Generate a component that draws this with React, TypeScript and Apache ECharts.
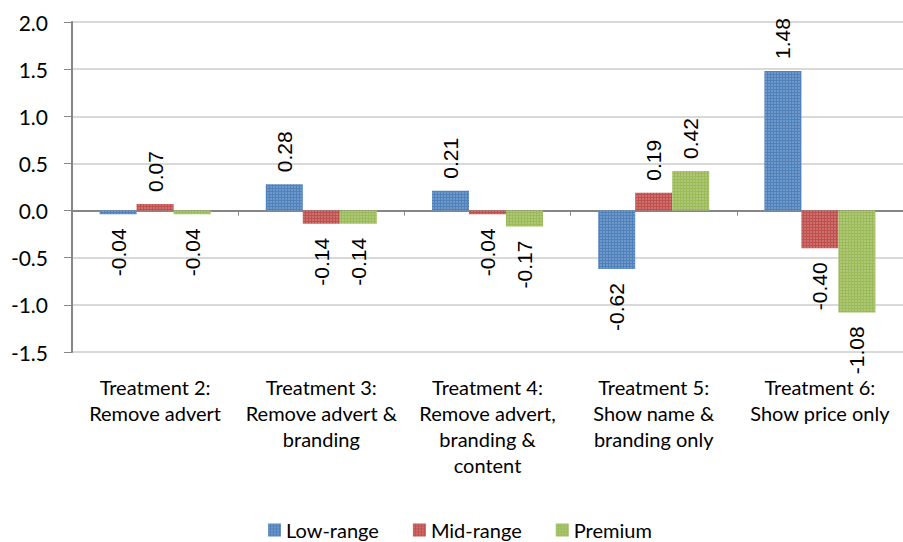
import React, { useEffect, useRef } from "react";
import * as echarts from "echarts";

const categories = [
  "Treatment 2:\nRemove advert",
  "Treatment 3:\nRemove advert &\nbranding",
  "Treatment 4:\nRemove advert,\nbranding &\ncontent",
  "Treatment 5:\nShow name &\nbranding only",
  "Treatment 6:\nShow price only",
];
const seriesNames = ["Low-range", "Mid-range", "Premium"];
const lowRange = [-0.04, 0.28, 0.21, -0.62, 1.48];
const midRange = [0.07, -0.14, -0.04, 0.19, -0.4];
const premium = [-0.04, -0.14, -0.17, 0.42, -1.08];
const colors = ["#4F81BD", "#C0504D", "#9BBB59"];

const AXIS_FONT = "Lato, 'Open Sans', sans-serif";
const LABEL_FONT = "'Liberation Sans', Arial, sans-serif";

function mkData(values: number[]) {
  return values.map((v) => ({
    value: v,
    label:
      v >= 0
        ? { position: "top", rotate: 90, align: "left", verticalAlign: "middle", distance: 12 }
        : { position: "bottom", rotate: 90, align: "right", verticalAlign: "middle", distance: 14 },
  }));
}

export default function App() {
  const ref = useRef<HTMLDivElement>(null);
  useEffect(() => {
    if (!ref.current) return;
    const chart = echarts.init(ref.current, undefined, { renderer: "svg" });
    const allSeries = [lowRange, midRange, premium];
    chart.setOption({
      animation: false,
      backgroundColor: "#ffffff",
      grid: { left: 72, right: -9, top: 22, bottom: 190, containLabel: false },
      legend: {
        top: 514,
        left: 263,
        itemWidth: 13,
        itemHeight: 13,
        itemGap: 34,
        icon: "rect",
        textStyle: { fontFamily: AXIS_FONT, fontSize: 20, lineHeight: 22, color: "#000" },
        data: seriesNames,
      },
      xAxis: [
        {
          type: "category",
          data: categories,
          position: "bottom",
          axisLine: { show: true, onZero: true, lineStyle: { color: "#868686", width: 2 } },
          axisTick: { show: true, length: 5, lineStyle: { color: "#868686", width: 1 } },
          axisLabel: { show: false },
          splitLine: { show: false },
        },
        {
          type: "category",
          data: categories,
          position: "bottom",
          axisLine: { show: false, onZero: false },
          axisTick: { show: false },
          axisLabel: {
            show: true,
            interval: 0,
            margin: 22,
            fontFamily: AXIS_FONT,
            fontSize: 20,
            lineHeight: 26,
            color: "#000",
          },
          splitLine: { show: false },
        },
      ],
      yAxis: {
        type: "value",
        min: -1.5,
        max: 2.0,
        interval: 0.5,
        axisLine: { show: true, lineStyle: { color: "#868686", width: 2 } },
        axisTick: { show: true, length: 8, lineStyle: { color: "#868686", width: 1 } },
        axisLabel: {
          margin: 24,
          fontFamily: AXIS_FONT,
          fontSize: 21,
          color: "#000",
          formatter: (v: number) => v.toFixed(1),
        },
        splitLine: { show: true, lineStyle: { color: "#D9D9D9", width: 2 } },
      },
      series: allSeries.map((vals, i) => ({
        name: seriesNames[i],
        type: "bar",
        xAxisIndex: 0,
        barWidth: 37,
        barGap: "0%",
        data: mkData(vals),
        itemStyle: {
          color: colors[i],
          decal: {
            symbol: "rect",
            symbolSize: 1,
            dashArrayX: [2, 1],
            dashArrayY: [2, 1],
            color: "rgba(255,255,255,0.18)",
            rotation: 0,
          },
        },
        label: {
          show: true,
          fontFamily: LABEL_FONT,
          fontSize: 21,
          color: "#000",
          formatter: (p: any) => Number(p.value).toFixed(2),
        },
      })),
    });
    return () => chart.dispose();
  }, []);
  return (
    <div
      ref={ref}
      style={{ position: "fixed", left: 0, top: 0, width: 903, height: 542, background: "#fff" }}
    />
  );
}
